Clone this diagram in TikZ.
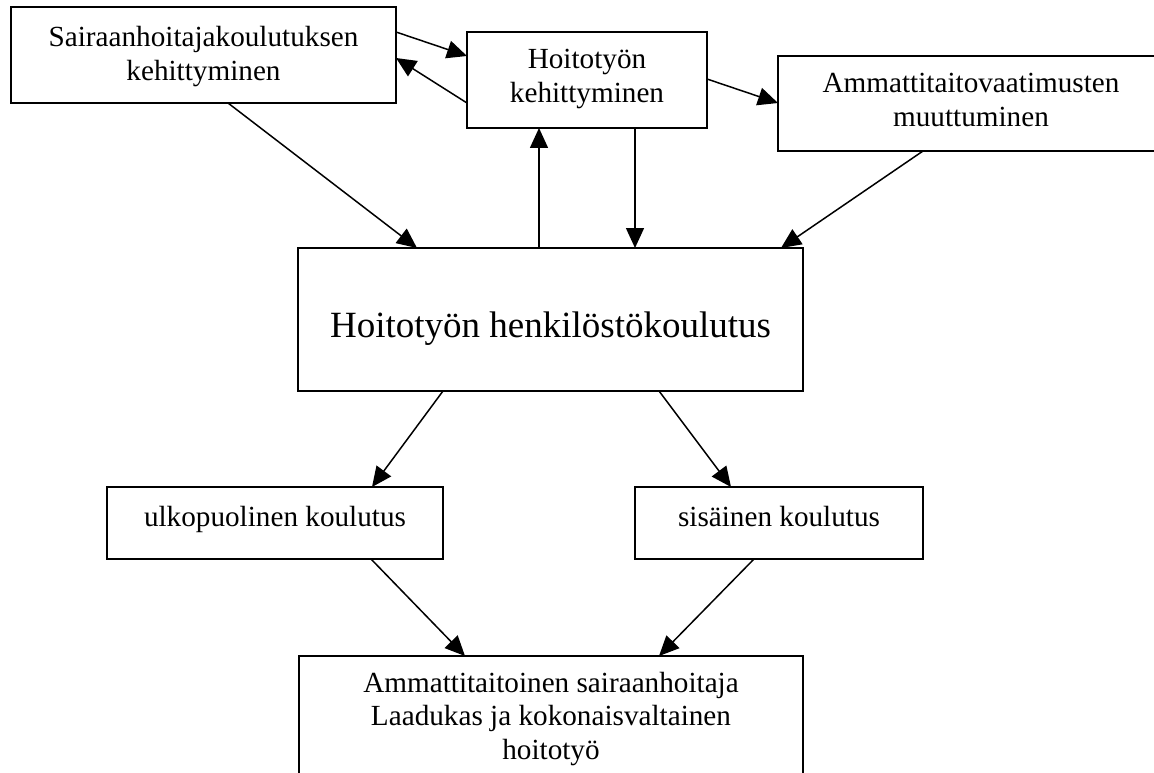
\documentclass[tikz,border=0pt]{standalone}
\usepackage{fontspec}
\setmainfont{Liberation Serif}
\usetikzlibrary{arrows.meta,calc}

% centred multi-line text whose reference point is the first baseline
\newcommand\stackedtext[1]{\parbox[t]{480pt}{\centering #1}}

\begin{document}
\begin{tikzpicture}[x=1pt,y=-1pt,
  box/.style={draw=black, line width=2pt, rectangle, inner sep=0pt, outer sep=0pt},
  lbl/.style={inner sep=0pt, outer sep=0pt, anchor=base,
              font=\fontsize{29.2}{33.5}\selectfont},
  biglbl/.style={lbl, font=\fontsize{37}{42}\selectfont},
  conn/.style={line width=1.5pt, -{Triangle[length=20pt,width=18pt]}},
]
\useasboundingbox (0,0) rectangle (1154,773);
\fill[white] (0,0) rectangle (1154,773);
\clip (0,0) rectangle (1154,773);

% boxes
\node[box, minimum width=385pt, minimum height=96pt] (koulutus) at (203.5,55) {};
\node[box, minimum width=240pt, minimum height=96pt] (hoitotyo) at (587,80) {};
\node[box, minimum width=386pt, minimum height=95pt] (vaatimus) at (971,103.5) {};
\node[box, minimum width=505pt, minimum height=143pt] (henk) at (550.5,319.5) {};
\node[box, minimum width=336pt, minimum height=72pt] (ulko) at (275,523) {};
\node[box, minimum width=288pt, minimum height=72pt] (sis) at (779,523) {};
\node[box, minimum width=504pt, minimum height=160pt] (tulos) at (551,736) {};

% texts
\node[lbl] (tkoulutus) at (203.5,47) {\stackedtext{Sairaanhoitajakoulutuksen\\kehittyminen}};
\node[lbl] (thoitotyo) at (587,69) {\stackedtext{Hoitotyön\\kehittyminen}};
\node[lbl] (tvaatimus) at (971,93) {\stackedtext{Ammattitaitovaatimusten\\muuttuminen}};
\node[biglbl] (thenk) at (550.5,337) {Hoitotyön henkilöstökoulutus};
\node[lbl] (tulko) at (275,526) {ulkopuolinen koulutus};
\node[lbl] (tsis) at (779,526) {sisäinen koulutus};
\node[lbl] (ttulos) at (551,692) {\stackedtext{Ammattitaitoinen sairaanhoitaja\\Laadukas ja kokonaisvaltainen\\hoitotyö}};

% connectors
\draw[conn] ($(koulutus.north east)+(0,25)$) -- ($(hoitotyo.north west)+(0,24)$);
\draw[conn] ($(hoitotyo.north west)+(0,71)$) -- ($(koulutus.north east)+(0,51)$);
\draw[conn] ($(hoitotyo.north east)+(0,47)$) -- ($(vaatimus.north west)+(0,47)$);
\draw[conn] ($(koulutus.south west)+(217,0)$) -- ($(henk.north west)+(119,0)$);
\draw[conn] ($(henk.north west)+(241,0)$) -- ($(hoitotyo.south west)+(72,0)$);
\draw[conn] ($(hoitotyo.south west)+(168,0)$) -- ($(henk.north west)+(337,0)$);
\draw[conn] ($(vaatimus.south west)+(145,0)$) -- ($(henk.north west)+(483,0)$);
\draw[conn] ($(henk.south west)+(145,0)$) -- ($(ulko.north west)+(265,0)$);
\draw[conn] ($(henk.south west)+(361,0)$) -- ($(sis.north west)+(96,0)$);
\draw[conn] ($(ulko.south west)+(264,0)$) -- ($(tulos.north west)+(166,0)$);
\draw[conn] ($(sis.south west)+(119,0)$) -- ($(tulos.north west)+(360,0)$);
\end{tikzpicture}
\end{document}
